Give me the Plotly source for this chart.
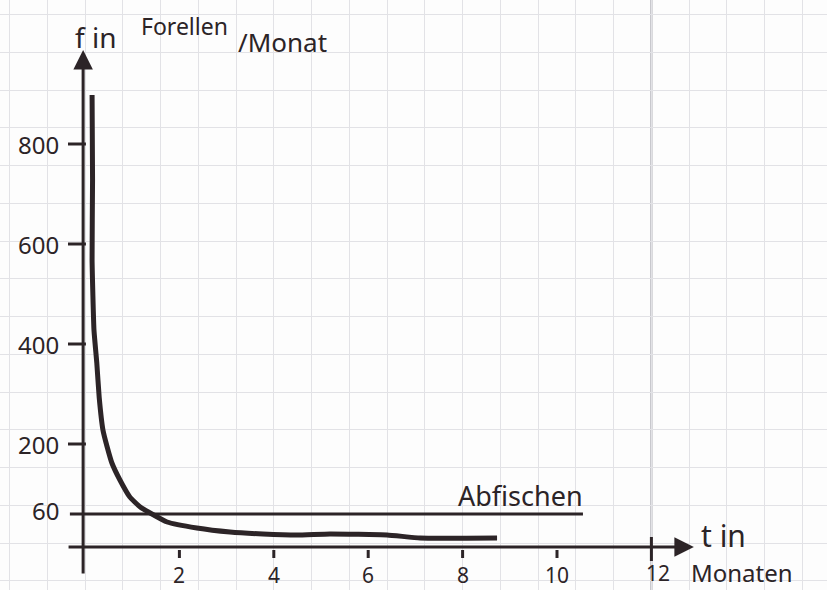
import plotly.graph_objects as go

# ---- data ----
t_months = [0.15, 0.16, 0.15, 0.19, 0.25, 0.30, 0.38, 0.47, 0.57, 0.74, 0.95, 1.17,
            1.38, 1.74, 2.37, 3.07, 3.77, 4.49, 5.19, 6.40, 7.10, 8.73]
f_trout = [898, 728, 568, 428, 362, 294, 228, 194, 162, 128, 94, 74,
           62, 44, 32, 24, 20, 18, 20, 18, 12, 12]

abfischen_level = 60
abfischen_t = [-0.32, 10.55]

x_tick_vals = [2, 4, 6, 8, 10]
x_tick_text = ["2", "4", "6", "8", "10"]
y_tick_vals = [800, 600, 400, 200, 60]
y_tick_text = ["800", "600", "400", "200", "60"]

INK = "#2c2427"
FONT = "Noto Sans"

fig = go.Figure()

# Abfischen line
fig.add_trace(go.Scatter(x=abfischen_t, y=[abfischen_level] * 2, mode="lines",
                         line=dict(color=INK, width=3), hoverinfo="skip"))

# curve
fig.add_trace(go.Scatter(x=t_months, y=f_trout, mode="lines",
                         line=dict(color=INK, width=5, shape="spline", smoothing=0.4),
                         hoverinfo="skip"))

# tick marks
yx, yy = [], []
for v in y_tick_vals[:-1]:
    yx += [-0.36, 0.02, None]
    yy += [v, v, None]
xx, xy = [], []
for v in x_tick_vals:
    xx += [v, v, None]
    xy += [-12, -28, None]
xx += [12, 12, None]
xy += [14, -34, None]
fig.add_trace(go.Scatter(x=yx + xx, y=yy + xy, mode="lines",
                         line=dict(color=INK, width=3), hoverinfo="skip"))

ann = []
# axes with arrows
ann.append(dict(x=-0.04, y=988, ax=-0.04, ay=-62, xref="x", yref="y", axref="x", ayref="y",
                showarrow=True, arrowhead=2, arrowsize=1.3, arrowwidth=3, arrowcolor=INK, text=""))
ann.append(dict(x=12.9, y=-6, ax=-0.38, ay=-6, xref="x", yref="y", axref="x", ayref="y",
                showarrow=True, arrowhead=2, arrowsize=1.3, arrowwidth=3, arrowcolor=INK, text=""))

# tick labels
for v, s in zip(x_tick_vals, x_tick_text):
    ann.append(dict(x=v, y=-62, text=s, showarrow=False, xref="x", yref="y",
                    font=dict(family=FONT, size=21, color=INK)))
ann.append(dict(x=12.15, y=-58, text="12", showarrow=False, xref="x", yref="y",
                font=dict(family=FONT, size=21, color=INK)))
for v, s in zip(y_tick_vals, y_tick_text):
    ann.append(dict(x=-0.5, y=v + (8 if v == 60 else 0), text=s, showarrow=False, xref="x", yref="y",
                    xanchor="right", font=dict(family=FONT, size=24, color=INK)))

# titles / labels
ann.append(dict(x=-0.25, y=1014, text="f in", showarrow=False, xref="x", yref="y", xanchor="left",
                font=dict(family=FONT, size=28, color=INK)))
ann.append(dict(x=1.15, y=1036, text="Forellen", showarrow=False, xref="x", yref="y", xanchor="left",
                font=dict(family=FONT, size=23, color=INK)))
ann.append(dict(x=3.2, y=1004, text="/Monat", showarrow=False, xref="x", yref="y", xanchor="left",
                font=dict(family=FONT, size=26, color=INK)))
ann.append(dict(x=7.85, y=98, text="Abfischen", showarrow=False, xref="x", yref="y", xanchor="left",
                font=dict(family=FONT, size=27, color=INK)))
ann.append(dict(x=13.0, y=18, text="t in", showarrow=False, xref="x", yref="y", xanchor="left",
                font=dict(family=FONT, size=30, color=INK)))
ann.append(dict(x=12.8, y=-56, text="Monaten", showarrow=False, xref="x", yref="y", xanchor="left",
                font=dict(family=FONT, size=24, color=INK)))

fig.update_layout(
    width=827, height=590,
    margin=dict(l=0, r=0, t=0, b=0),
    paper_bgcolor="#fdfdfd", plot_bgcolor="#fdfdfd",
    showlegend=False,
    annotations=ann,
    shapes=[dict(type="line", xref="x", yref="paper", x0=12, x1=12, y0=0, y1=1,
                 line=dict(color="#a6a6ad", width=2), layer="below")],
    xaxis=dict(range=[-85 / 47.2, 742 / 47.2], tick0=0, dtick=0.8, showgrid=True,
               gridcolor="#e2e2e6", gridwidth=1, zeroline=False, showticklabels=False,
               ticks="", showline=False, fixedrange=True),
    yaxis=dict(range=[-92, 1088], tick0=2, dtick=75.47, showgrid=True,
               gridcolor="#e2e2e6", gridwidth=1, zeroline=False, showticklabels=False,
               ticks="", showline=False, fixedrange=True),
)

fig.write_html("out.html", config={"displayModeBar": False},
               post_script="document.body.style.margin='0';")
